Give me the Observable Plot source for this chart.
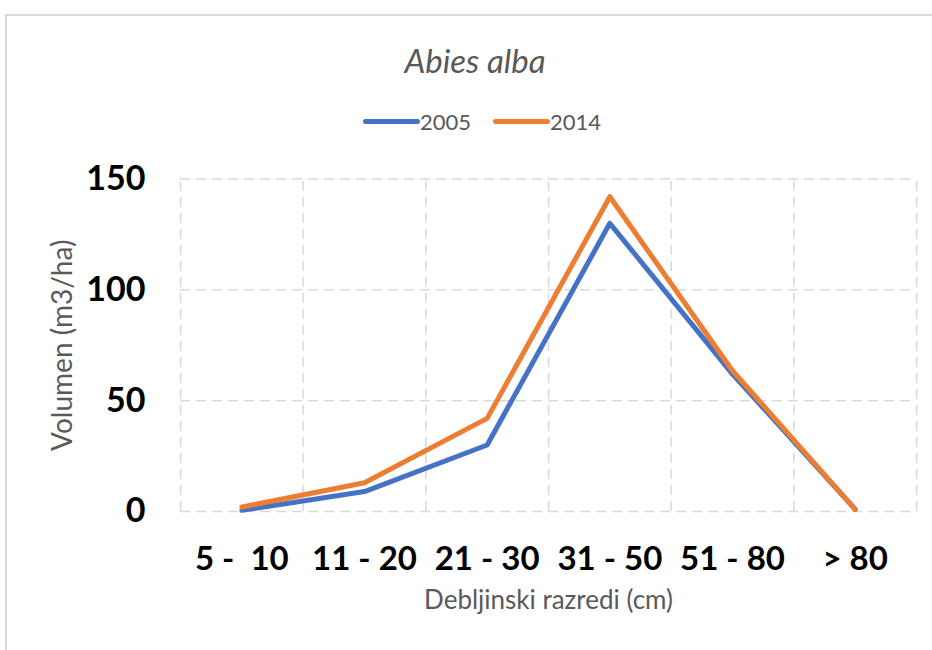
<!DOCTYPE html>
<html>
<head>
<meta charset="utf-8">
<script src="https://cdn.jsdelivr.net/npm/d3@7"></script>
<script src="https://cdn.jsdelivr.net/npm/@observablehq/plot@0.6"></script>
<style>
  html, body { margin: 0; padding: 0; background: #fff; }
  body { width: 932px; height: 650px; position: relative; overflow: hidden; font-family: Lato, "Open Sans", sans-serif; }
  #frame { position: absolute; left: 5px; top: 14px; width: 1000px; height: 700px; border-left: 2px solid #d9d9d9; border-top: 2px solid #d9d9d9; }
  #title { position: absolute; left: 475px; top: 60px; transform: translate(-50%, -50%); font-size: 33px; font-style: italic; color: #595959; white-space: nowrap; }
  #legend { position: absolute; left: 363px; top: 108px; height: 26px; display: flex; align-items: center; font-size: 22px; color: #595959; }
  .sw { display: inline-block; width: 57px; height: 5px; border-radius: 3px; }
  .item { display: flex; align-items: center; margin-right: 22px; }
  #chart { position: absolute; left: 0; top: 140px; }
  #chart text { white-space: pre; }
</style>
</head>
<body>
<div id="frame"></div>
<div id="title">Abies alba</div>
<div id="legend"></div>
<div id="chart"></div>
<script>
const categories = ["5 -  10", "11 - 20", "21 - 30", "31 - 50", "51 - 80", "> 80"];
const seriesNames = ["2005", "2014"];
const colors = ["#4472C4", "#ED7D31"];
const v2005 = [0.5, 9, 30, 130, 62, 1];
const v2014 = [2, 13, 42, 142, 63.5, 1];
const yTicks = [0, 50, 100, 150];
const xTitle = "Debljinski razredi (cm)";
const yTitle = "Volumen (m3/ha)";

const rows = [];
[v2005, v2014].forEach((vals, s) => {
  vals.forEach((v, i) => rows.push({ series: seriesNames[s], i, value: v }));
});
const boundaries = categories.map((_, i) => i - 0.5).concat([categories.length - 0.5]);

const legend = document.getElementById("legend");
seriesNames.forEach((n, k) => {
  const it = document.createElement("div");
  it.className = "item";
  it.innerHTML = `<span class="sw" style="background:${colors[k]}"></span><span>${n}</span>`;
  legend.appendChild(it);
});

const grid = { stroke: "#d9d9d9", strokeOpacity: 1, strokeWidth: 1.5, strokeDasharray: "10,6" };

const plot = Plot.plot({
  width: 932,
  height: 510,
  marginLeft: 180,
  marginRight: 16,
  marginTop: 38.5,
  marginBottom: 139,
  style: { background: "transparent", color: "#000", fontFamily: "Lato, sans-serif", overflow: "visible" },
  x: { type: "linear", domain: [-0.5, categories.length - 0.5] },
  y: { domain: [0, 150] },
  color: { domain: seriesNames, range: colors },
  marks: [
    Plot.gridY(yTicks, grid),
    Plot.ruleX(boundaries, { ...grid, y1: 0, y2: 150 }),
    Plot.axisY({ ticks: yTicks, tickSize: 0, tickPadding: 35, fontSize: 34, fontWeight: "bold", label: null }),
    Plot.axisX({ ticks: d3.range(categories.length), tickFormat: i => categories[i], tickSize: 0, tickPadding: 35, fontSize: 33, fontWeight: "bold", label: null }),
    Plot.line(rows, { x: "i", y: "value", z: "series", stroke: "series", strokeWidth: 5, strokeLinecap: "round", strokeLinejoin: "round" }),
    Plot.text([xTitle], { frameAnchor: "bottom", dy: 97, fontSize: 26, fill: "#595959" }),
    Plot.text([yTitle], { frameAnchor: "left", textAnchor: "middle", dx: -117, rotate: -90, fontSize: 28, fill: "#595959" })
  ]
});
document.getElementById("chart").appendChild(plot);
</script>
</body>
</html>
